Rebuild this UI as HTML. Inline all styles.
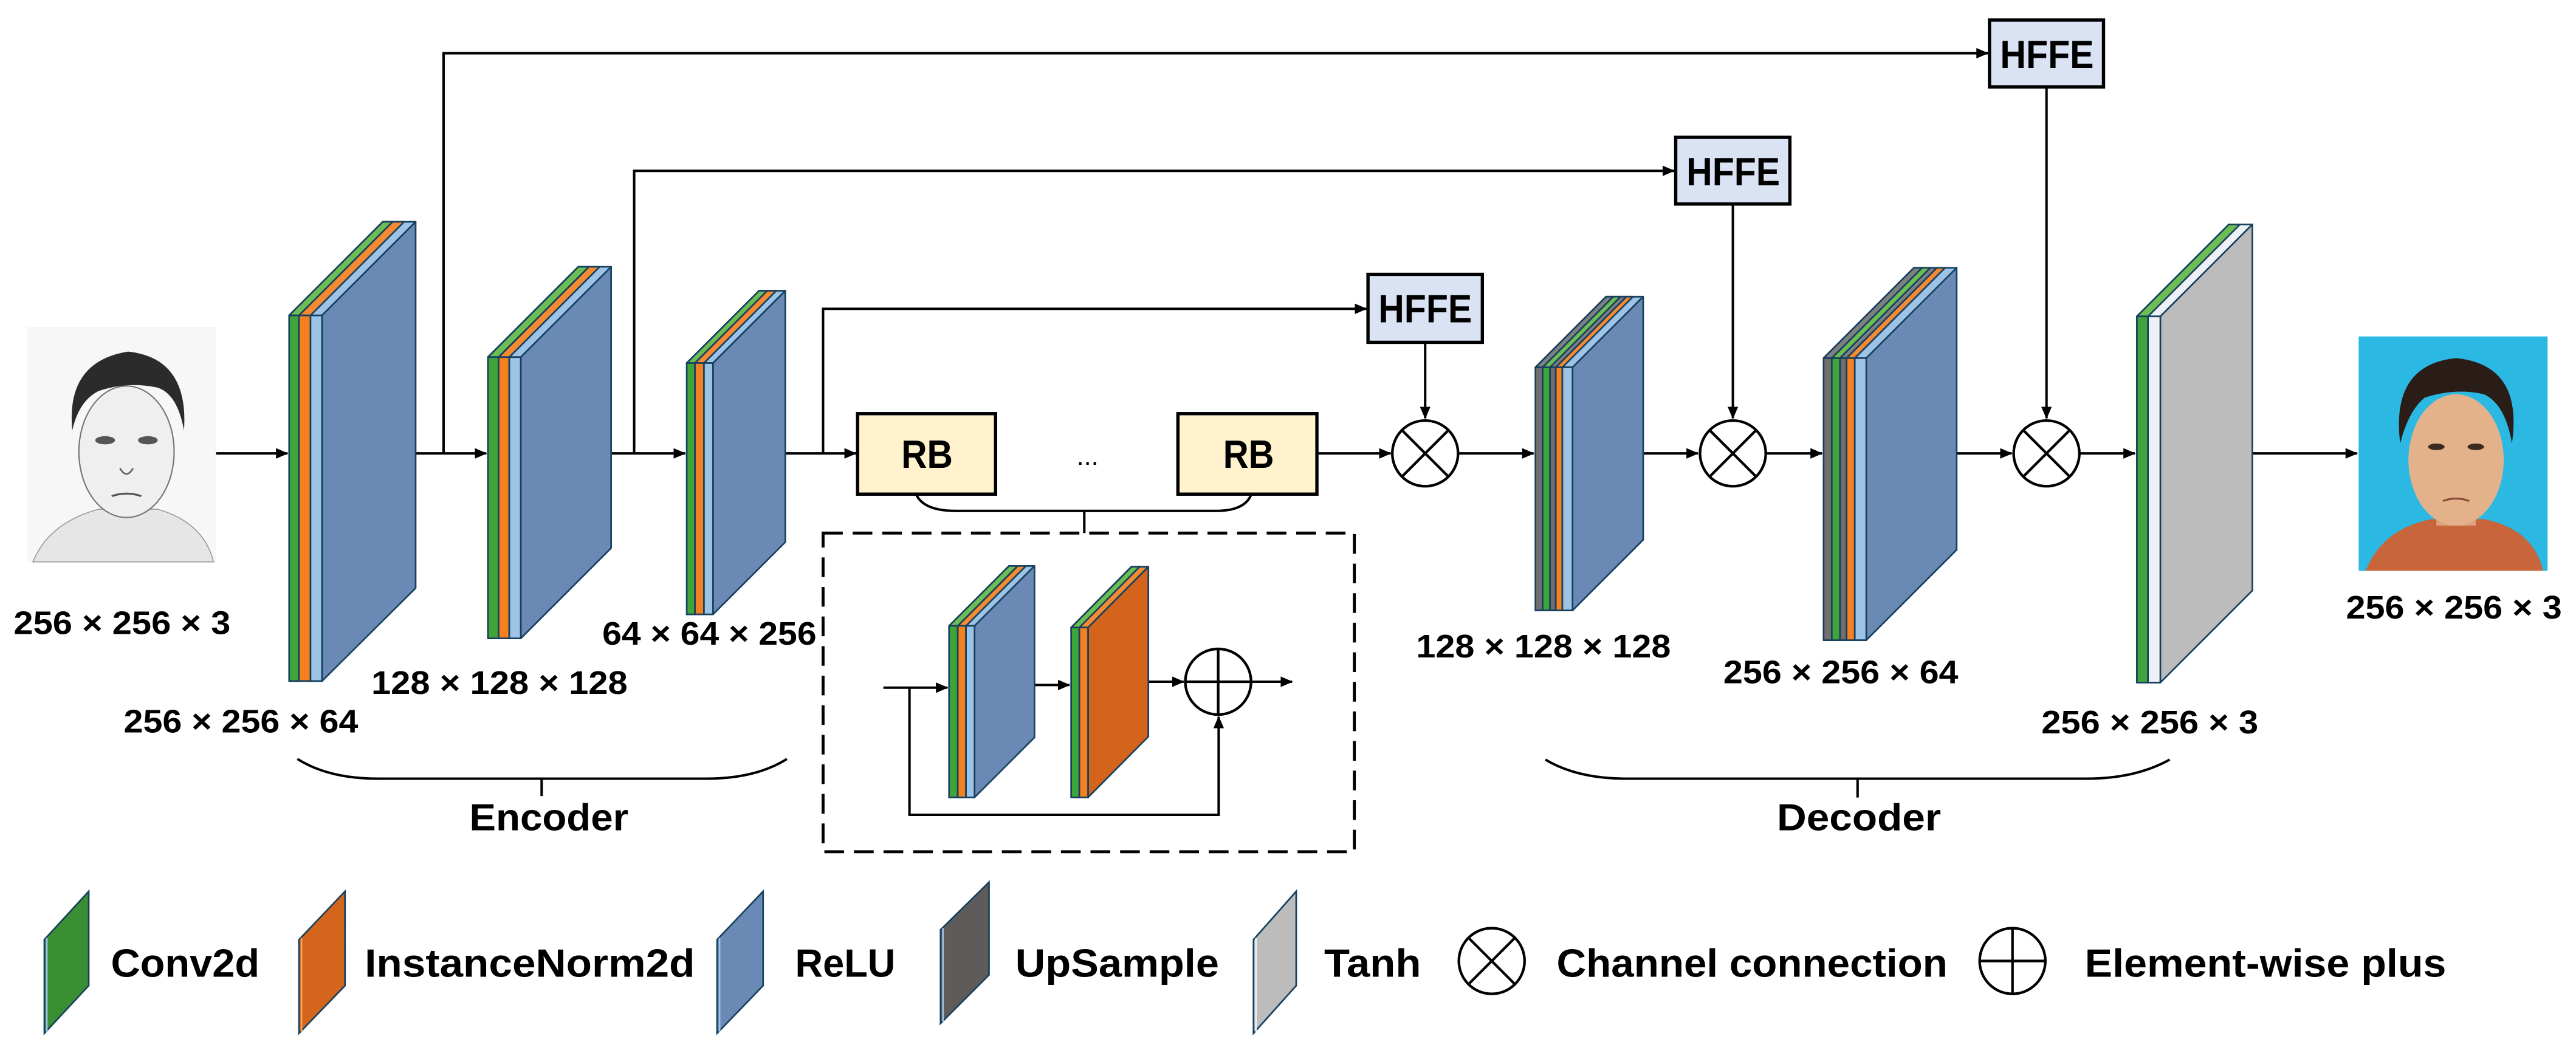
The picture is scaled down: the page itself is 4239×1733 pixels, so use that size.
<!DOCTYPE html>
<html><head><meta charset="utf-8"><style>
html,body{margin:0;padding:0;background:#fff;}
svg{display:block;}
text{font-family:"Liberation Sans",sans-serif;font-weight:bold;fill:#000;}
</style></head><body>
<svg width="4239" height="1733" viewBox="0 0 1568 641" preserveAspectRatio="none" xmlns="http://www.w3.org/2000/svg">
<defs>
<marker id="ah" markerWidth="8" markerHeight="8" refX="7" refY="4" orient="auto" markerUnits="userSpaceOnUse">
<path d="M0,0.8 L7.5,4 L0,7.2 Z" fill="#000"/>
</marker>
</defs>
<g stroke="#000" stroke-width="1.5" fill="none">
<!-- main arrows -->
<line x1="131" y1="276" x2="175" y2="276" marker-end="url(#ah)"/>
<line x1="230" y1="276" x2="296" y2="276" marker-end="url(#ah)"/>
<line x1="355" y1="276" x2="417" y2="276" marker-end="url(#ah)"/>
<line x1="465" y1="276" x2="521" y2="276" marker-end="url(#ah)"/>
<line x1="801.6" y1="276" x2="846.5" y2="276" marker-end="url(#ah)"/>
<line x1="887.5" y1="276" x2="933.5" y2="276" marker-end="url(#ah)"/>
<line x1="984" y1="276" x2="1033.5" y2="276" marker-end="url(#ah)"/>
<line x1="1075" y1="276" x2="1109" y2="276" marker-end="url(#ah)"/>
<line x1="1177.5" y1="276" x2="1224.5" y2="276" marker-end="url(#ah)"/>
<line x1="1266" y1="276" x2="1299.5" y2="276" marker-end="url(#ah)"/>
<line x1="1347.6" y1="276" x2="1434.7" y2="276" marker-end="url(#ah)"/>
<!-- skip lines -->
<polyline points="270,276 270,32.4 1210,32.4" marker-end="url(#ah)"/>
<polyline points="386,276 386,104 1019,104" marker-end="url(#ah)"/>
<polyline points="501,276 501,188 831.7,188" marker-end="url(#ah)"/>
<line x1="867.5" y1="208.4" x2="867.5" y2="254.6" marker-end="url(#ah)"/>
<line x1="1054.8" y1="124.2" x2="1054.8" y2="254.6" marker-end="url(#ah)"/>
<line x1="1245.7" y1="52.9" x2="1245.7" y2="254.6" marker-end="url(#ah)"/>
<!-- braces -->
<path d="M181,462 Q200,474 230,474 L430,474 Q460,474 479,462"/>
<line x1="329.7" y1="474" x2="329.7" y2="484.6"/>
<path d="M940.7,462.4 Q960,474 990,474 L1270,474 Q1300,474 1320.7,462.4"/>
<line x1="1130.7" y1="474" x2="1130.7" y2="485.5"/>
<path d="M557.6,300.8 Q562,311 582,311 L740,311 Q758,311 761.7,300.8"/>
<line x1="660" y1="311" x2="660" y2="324.5"/>
<!-- dashed box -->
<rect x="501" y="324.5" width="323.4" height="194" stroke-dasharray="12 6" stroke-width="1.8"/>
<!-- inner arrows -->
<line x1="537.7" y1="418.6" x2="576.7" y2="418.6" marker-end="url(#ah)"/>
<polyline points="553.6,418.6 553.6,496 741.8,496 741.8,436.3" marker-end="url(#ah)"/>
<line x1="611.4" y1="417" x2="651" y2="417" marker-end="url(#ah)"/>
<line x1="683" y1="415" x2="720.5" y2="415" marker-end="url(#ah)"/>
<line x1="761.5" y1="415" x2="786.5" y2="415" marker-end="url(#ah)"/>
</g>

<!-- Sketch face -->
<g>
<rect x="16.5" y="199" width="115" height="143.6" fill="#f7f7f7"/>
<path d="M20,342 Q30,318 60,310 L96,310 Q124,318 130,342 Z" fill="#e6e6e6" stroke="#999" stroke-width="0.6"/>
<rect x="64" y="295" width="26" height="20" fill="#e8e8e8"/>
<ellipse cx="77" cy="275" rx="29" ry="40" fill="#efefef" stroke="#777" stroke-width="0.8"/>
<path d="M44,262 Q40,220 78,214 Q115,218 112,262 Q108,240 96,236 Q78,232 60,238 Q48,244 44,262 Z" fill="#2b2b2b"/>
<ellipse cx="64" cy="268" rx="6" ry="2.5" fill="#555"/>
<ellipse cx="90" cy="268" rx="6" ry="2.5" fill="#555"/>
<path d="M73,285 Q77,292 81,285" stroke="#666" fill="none"/>
<path d="M68,302 Q77,299 86,302" stroke="#555" fill="none" stroke-width="1.2"/>
</g>

<!-- Photo -->
<g>
<rect x="1435.7" y="204.8" width="115" height="142.7" fill="#2bb8e2"/>
<path d="M1440,347.5 Q1450,322 1480,316 L1512,316 Q1542,322 1548,347.5 Z" fill="#c9653a"/>
<rect x="1483" y="300" width="24" height="20" fill="#d9a27c"/>
<ellipse cx="1495" cy="280" rx="29" ry="40" fill="#e3b28b"/>
<path d="M1461,270 Q1455,222 1495,218 Q1536,222 1529,270 Q1525,246 1512,240 Q1495,236 1476,242 Q1466,250 1461,270 Z" fill="#2a1d17"/>
<ellipse cx="1483" cy="272" rx="5" ry="2" fill="#3a2a22"/>
<ellipse cx="1507" cy="272" rx="5" ry="2" fill="#3a2a22"/>
<path d="M1487,305 Q1495,302 1503,305" stroke="#8a4a3a" fill="none" stroke-width="1.2"/>
</g>

<g stroke="#17415f" stroke-width="1" stroke-linejoin="round">
<!-- Block1 d=57 -->
<polygon points="176,192 196,192 253,135 233,135" fill="#9dc3e6"/>
<polygon points="176,192 182,192 239,135 233,135" fill="#6cbd54"/>
<polygon points="182,192 189,192 246,135 239,135" fill="#f58a32"/>
<polygon points="196,192 253,135 253,358 196,414.6" fill="#6a8ab5"/>
<rect x="176" y="192" width="6" height="222.6" fill="#3fa43a"/>
<rect x="182" y="192" width="7" height="222.6" fill="#f58020"/>
<rect x="189" y="192" width="7" height="222.6" fill="#9dc3e6"/>
<!-- Block2 d=55 -->
<polygon points="297,217.4 317,217.4 372,162.4 352,162.4" fill="#9dc3e6"/>
<polygon points="297,217.4 303.5,217.4 358.5,162.4 352,162.4" fill="#6cbd54"/>
<polygon points="303.5,217.4 310,217.4 365,162.4 358.5,162.4" fill="#f58a32"/>
<polygon points="317,217.4 372,162.4 372,333.6 317,388.6" fill="#6a8ab5"/>
<rect x="297" y="217.4" width="6.5" height="171.2" fill="#3fa43a"/>
<rect x="303.5" y="217.4" width="6.5" height="171.2" fill="#f58020"/>
<rect x="310" y="217.4" width="7" height="171.2" fill="#9dc3e6"/>
<!-- Block3 d=44 -->
<polygon points="418,221 434,221 478,177 462,177" fill="#9dc3e6"/>
<polygon points="418,221 423,221 467,177 462,177" fill="#6cbd54"/>
<polygon points="423,221 428.5,221 472.5,177 467,177" fill="#f58a32"/>
<polygon points="434,221 478,177 478,330 434,374" fill="#6a8ab5"/>
<rect x="418" y="221" width="5" height="153" fill="#3fa43a"/>
<rect x="423" y="221" width="5.5" height="153" fill="#f58020"/>
<rect x="428.5" y="221" width="5.5" height="153" fill="#9dc3e6"/>
<!-- Block4 d=43 -->
<polygon points="934.6,223.6 957.2,223.6 1000.2,180.6 977.6,180.6" fill="#9dc3e6"/>
<polygon points="934.6,223.6 939,223.6 982,180.6 977.6,180.6" fill="#808080"/>
<polygon points="939,223.6 943.5,223.6 986.5,180.6 982,180.6" fill="#6cbd54"/>
<polygon points="943.5,223.6 947,223.6 990,180.6 986.5,180.6" fill="#808080"/>
<polygon points="947,223.6 951,223.6 994,180.6 990,180.6" fill="#f58a32"/>
<polygon points="957.2,223.6 1000.2,180.6 1000.2,328.6 957.2,371.6" fill="#6a8ab5"/>
<rect x="934.6" y="223.6" width="4.4" height="148" fill="#6f6f6f"/>
<rect x="939" y="223.6" width="4.5" height="148" fill="#3fa43a"/>
<rect x="943.5" y="223.6" width="3.5" height="148" fill="#6f6f6f"/>
<rect x="947" y="223.6" width="4" height="148" fill="#f58020"/>
<rect x="951" y="223.6" width="6.2" height="148" fill="#9dc3e6"/>
<!-- Block5 d=55 -->
<polygon points="1110,218 1136,218 1191,163 1165,163" fill="#9dc3e6"/>
<polygon points="1110,218 1115,218 1170,163 1165,163" fill="#808080"/>
<polygon points="1115,218 1120,218 1175,163 1170,163" fill="#6cbd54"/>
<polygon points="1120,218 1124,218 1179,163 1175,163" fill="#808080"/>
<polygon points="1124,218 1129,218 1184,163 1179,163" fill="#f58a32"/>
<polygon points="1136,218 1191,163 1191,334.7 1136,389.7" fill="#6a8ab5"/>
<rect x="1110" y="218" width="5" height="171.7" fill="#6f6f6f"/>
<rect x="1115" y="218" width="5" height="171.7" fill="#3fa43a"/>
<rect x="1120" y="218" width="4" height="171.7" fill="#6f6f6f"/>
<rect x="1124" y="218" width="5" height="171.7" fill="#f58020"/>
<rect x="1129" y="218" width="7" height="171.7" fill="#9dc3e6"/>
<!-- Block6 d=56 -->
<polygon points="1300.7,192.6 1315,192.6 1371,136.6 1356.7,136.6" fill="#eef2f6"/>
<polygon points="1300.7,192.6 1307.5,192.6 1363.5,136.6 1356.7,136.6" fill="#6cbd54"/>
<polygon points="1315,192.6 1371,136.6 1371,359.5 1315,415.5" fill="#bcbcbc"/>
<rect x="1300.7" y="192.6" width="6.8" height="222.9" fill="#3fa43a"/>
<rect x="1307.5" y="192.6" width="7.5" height="222.9" fill="#eef2f6"/>
<!-- inner a d=36.5 -->
<polygon points="577.7,381 593.2,381 629.7,344.5 614.2,344.5" fill="#9dc3e6"/>
<polygon points="577.7,381 583,381 619.5,344.5 614.2,344.5" fill="#6cbd54"/>
<polygon points="583,381 588,381 624.5,344.5 619.5,344.5" fill="#f58a32"/>
<polygon points="593.2,381 629.7,344.5 629.7,448.9 593.2,485.4" fill="#6a8ab5"/>
<rect x="577.7" y="381" width="5.3" height="104.4" fill="#3fa43a"/>
<rect x="583" y="381" width="5" height="104.4" fill="#f58020"/>
<rect x="588" y="381" width="5.2" height="104.4" fill="#9dc3e6"/>
<!-- inner b -->
<polygon points="652,382 662.3,382 699,345 688.7,345" fill="#f58a32"/>
<polygon points="652,382 657,382 693.7,345 688.7,345" fill="#6cbd54"/>
<polygon points="662.3,382 699,345 699,448.4 662.3,485.4" fill="#d4631c"/>
<rect x="652" y="382" width="5" height="103.4" fill="#3fa43a"/>
<rect x="657" y="382" width="5.3" height="103.4" fill="#f58020"/>
</g>

<!-- RB boxes -->
<rect x="522" y="251.8" width="84" height="49" fill="#fff2cc" stroke="#000" stroke-width="2"/>
<rect x="717" y="251.8" width="84.6" height="49" fill="#fff2cc" stroke="#000" stroke-width="2"/>
<text x="548.6" y="284.8" font-size="24" textLength="31.4" lengthAdjust="spacingAndGlyphs">RB</text>
<text x="744.5" y="284.8" font-size="24" textLength="31" lengthAdjust="spacingAndGlyphs">RB</text>
<text x="662" y="283" font-size="16" text-anchor="middle" style="font-weight:normal">...</text>

<!-- HFFE boxes -->
<rect x="832.7" y="167" width="69.6" height="41.4" fill="#dae3f3" stroke="#000" stroke-width="2"/>
<rect x="1020" y="83.6" width="69.5" height="40.6" fill="#dae3f3" stroke="#000" stroke-width="2"/>
<rect x="1211" y="12.2" width="69.4" height="40.7" fill="#dae3f3" stroke="#000" stroke-width="2"/>
<text x="839" y="196.3" font-size="24" textLength="57" lengthAdjust="spacingAndGlyphs">HFFE</text>
<text x="1026.5" y="112.9" font-size="24" textLength="57" lengthAdjust="spacingAndGlyphs">HFFE</text>
<text x="1217.5" y="41.5" font-size="24" textLength="57" lengthAdjust="spacingAndGlyphs">HFFE</text>

<!-- otimes / oplus -->
<g stroke="#000" stroke-width="1.6" fill="#fff">
<circle cx="867.5" cy="276" r="20"/>
<circle cx="1054.8" cy="276" r="20"/>
<circle cx="1245.7" cy="276" r="20"/>
<circle cx="741.5" cy="415" r="20"/>
<circle cx="908" cy="585" r="20"/>
<circle cx="1225" cy="585" r="20"/>
</g>
<g stroke="#000" stroke-width="1.6">
<path d="M853.4,261.9 L881.6,290.1 M881.6,261.9 L853.4,290.1"/>
<path d="M1040.7,261.9 L1068.9,290.1 M1068.9,261.9 L1040.7,290.1"/>
<path d="M1231.6,261.9 L1259.8,290.1 M1259.8,261.9 L1231.6,290.1"/>
<path d="M721.5,415 L761.5,415 M741.5,395 L741.5,435"/>
<path d="M893.9,570.9 L922.1,599.1 M922.1,570.9 L893.9,599.1"/>
<path d="M1205,585 L1245,585 M1225,565 L1225,605"/>
</g>

<!-- labels -->
<g font-size="20">
<text x="8.3" y="386" textLength="132" lengthAdjust="spacingAndGlyphs">256 × 256 × 3</text>
<text x="75.3" y="445.8" textLength="142.7" lengthAdjust="spacingAndGlyphs">256 × 256 × 64</text>
<text x="226" y="422.4" textLength="156" lengthAdjust="spacingAndGlyphs">128 × 128 × 128</text>
<text x="366.6" y="392.5" textLength="130.4" lengthAdjust="spacingAndGlyphs">64 × 64 × 256</text>
<text x="862" y="400.3" textLength="155" lengthAdjust="spacingAndGlyphs">128 × 128 × 128</text>
<text x="1049" y="416" textLength="143" lengthAdjust="spacingAndGlyphs">256 × 256 × 64</text>
<text x="1242.6" y="446.5" textLength="132" lengthAdjust="spacingAndGlyphs">256 × 256 × 3</text>
<text x="1428" y="376.5" textLength="131.4" lengthAdjust="spacingAndGlyphs">256 × 256 × 3</text>
</g>
<text x="285.7" y="505.4" font-size="23" textLength="96.8" lengthAdjust="spacingAndGlyphs">Encoder</text>
<text x="1081.6" y="505.4" font-size="23" textLength="99.9" lengthAdjust="spacingAndGlyphs">Decoder</text>

<!-- legend icons -->
<g stroke="#17415f" stroke-width="1">
<polygon points="27,572 54,542.6 54,600 27,629" fill="#3a8f32"/>
<line x1="28.5" y1="571" x2="28.5" y2="628" stroke="#9dc3e6"/>
<polygon points="182,572 210,542.6 210,600 182,629" fill="#d4651c"/>
<line x1="183.5" y1="571" x2="183.5" y2="628" stroke="#f5a060"/>
<polygon points="436.5,572 464.5,542.6 464.5,600 436.5,629" fill="#6a8ab5"/>
<line x1="438" y1="571" x2="438" y2="628" stroke="#9dc3e6"/>
<polygon points="572.5,566 602,537 602,593.5 572.5,623" fill="#5f5b5b"/>
<line x1="574" y1="565" x2="574" y2="622" stroke="#9dc3e6"/>
<polygon points="763,572 789,542.6 789,600 763,629" fill="#bcbcbc"/>
<line x1="764.5" y1="571" x2="764.5" y2="628" stroke="#eef2f6"/>
</g>
<g font-size="24">
<text x="67.5" y="594.6" textLength="90.5" lengthAdjust="spacingAndGlyphs">Conv2d</text>
<text x="222" y="594.6" textLength="201" lengthAdjust="spacingAndGlyphs">InstanceNorm2d</text>
<text x="484" y="594.6" textLength="61" lengthAdjust="spacingAndGlyphs">ReLU</text>
<text x="618" y="594.6" textLength="124" lengthAdjust="spacingAndGlyphs">UpSample</text>
<text x="806" y="594.6" textLength="59" lengthAdjust="spacingAndGlyphs">Tanh</text>
<text x="947.5" y="594.6" textLength="238" lengthAdjust="spacingAndGlyphs">Channel connection</text>
<text x="1269" y="594.6" textLength="220" lengthAdjust="spacingAndGlyphs">Element-wise plus</text>
</g>
</svg>
</body></html>
